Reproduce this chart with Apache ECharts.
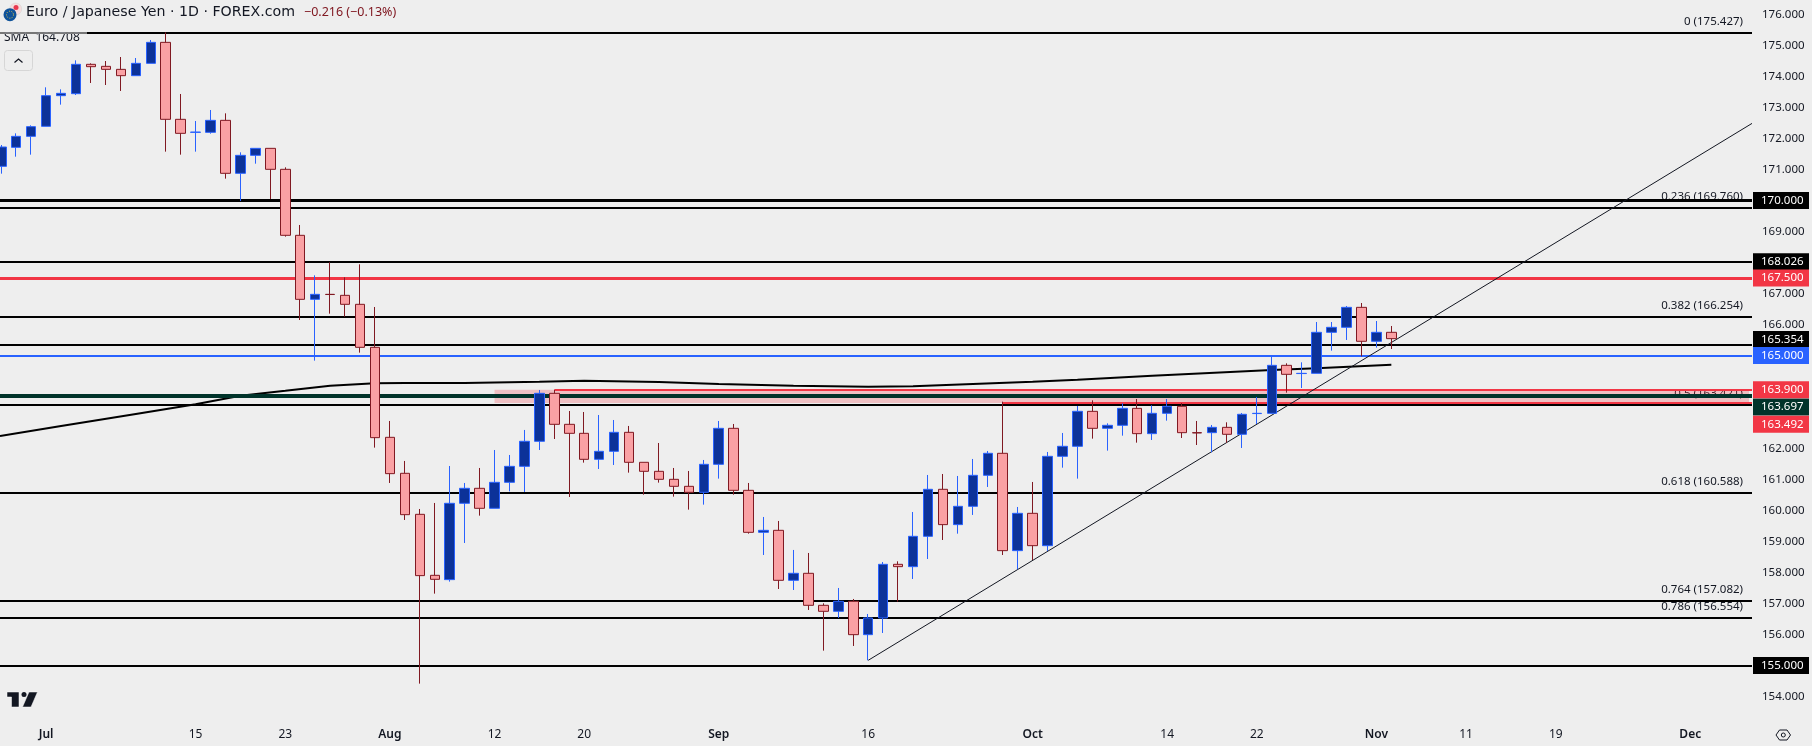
<!DOCTYPE html>
<html>
<head>
<meta charset="utf-8">
<title>EUR/JPY</title>
<script src="https://cdn.jsdelivr.net/npm/echarts@6/dist/echarts.min.js"></script>
<style>
  html, body { margin: 0; padding: 0; background: #eeeeee; }
  #chart { width: 1812px; height: 746px; }
</style>
</head>
<body>
<div id="chart"></div>
<script>
// daily candles, index 0 is late June, last one is 4 Nov
const openVals = [171.105,171.718,172.073,172.396,173.385,173.449,174.396,174.331,174.234,174.03,174.428,175.105,172.622,172.202,172.202,172.589,170.88,171.46,171.686,171.009,168.88,166.815,166.976,166.944,166.654,165.267,162.364,161.203,159.88,157.912,157.773,160.235,160.719,160.074,160.912,161.428,162.235,163.783,162.783,162.493,161.654,161.912,162.525,161.558,161.267,161.009,160.783,160.59,161.493,162.654,160.654,159.299,159.364,157.751,157.977,156.945,156.751,157.074,155.998,156.536,158.267,158.192,159.17,160.687,159.547,160.138,161.138,161.848,158.708,159.912,158.869,161.751,162.074,163.202,162.654,162.751,163.299,162.482,163.138,163.364,162.514,162.514,162.686,162.461,163.13,163.138,164.686,164.42,164.428,165.751,165.912,166.557,165.461,165.751];
const closeVals = [171.729,172.073,172.385,173.385,173.46,174.396,174.32,174.234,174.03,174.428,175.105,172.622,172.17,172.21,172.589,170.88,171.46,171.686,171.009,168.88,166.815,166.976,166.97,166.654,165.267,162.353,161.192,159.869,157.902,157.783,160.235,160.719,160.074,160.912,161.428,162.235,163.783,162.783,162.493,161.654,161.912,162.525,161.558,161.267,161.009,160.783,160.59,161.493,162.654,160.654,159.299,159.364,157.751,157.977,156.945,156.751,157.074,155.998,156.536,158.267,158.192,159.17,160.687,159.547,160.138,161.138,161.848,158.708,159.912,158.869,161.751,162.074,163.203,162.654,162.751,163.299,162.482,163.138,163.364,162.514,162.505,162.686,162.461,163.106,163.138,164.686,164.396,164.428,165.751,165.912,166.557,165.461,165.751,165.547];
const lowVals = [170.869,171.417,171.482,172.396,173.095,173.406,173.794,173.729,173.536,174.03,174.428,171.579,171.482,171.579,172.159,170.708,169.987,171.191,170.052,168.837,166.148,164.837,166.353,166.256,165.095,162.031,160.891,159.697,154.418,157.321,157.708,158.955,159.837,160.074,160.622,160.601,161.955,162.31,160.439,161.547,161.342,161.471,161.224,160.514,160.902,160.45,160.031,160.192,161.031,160.514,159.256,158.568,157.471,157.439,156.794,155.482,156.536,155.633,155.17,156.052,157.063,157.794,158.439,159.052,159.256,159.859,160.762,158.568,158.106,158.407,158.697,161.385,161.031,162.321,161.934,162.417,162.192,162.278,162.901,162.342,162.116,161.88,162.192,162.02,162.794,163.138,163.805,163.955,164.428,165.159,165.504,164.977,165.256,165.213];
const highVals = [171.794,172.17,172.428,173.654,173.589,174.525,174.428,174.503,174.632,174.6,175.181,175.427,173.439,172.568,172.923,172.815,171.557,171.686,171.686,171.073,169.213,167.589,168.009,167.525,167.944,166.568,162.891,161.601,160.052,160.246,161.439,160.891,161.375,161.955,161.794,162.601,163.891,163.891,163.213,163.181,163.084,162.923,162.73,161.558,162.181,161.375,161.278,161.633,162.891,162.794,160.891,159.794,159.665,158.73,158.633,157.009,157.504,157.149,156.665,158.342,158.364,159.955,161.149,161.181,161.117,161.665,161.923,163.514,160.117,160.923,161.891,162.504,163.375,163.557,162.815,163.461,163.6,163.396,163.6,163.471,162.891,162.762,162.848,163.149,163.665,164.987,164.751,164.783,166.084,166.084,166.6,166.697,166.116,165.955];

// 200 SMA read at a handful of candles
const smaIndex = [-0.087,4,9,13,16,19,22,25,27,31,36,39,44,48,53,58,61,65,69,72,77,85,88,93];
const smaVals = [162.407,162.73,163.117,163.428,163.708,163.869,164.031,164.105,164.117,164.117,164.154,164.19,164.15,164.084,164.03,163.998,164.009,164.084,164.16,164.224,164.353,164.536,164.59,164.708];

const xTickIndex = [3,13,19,26,33,39,48,58,69,78,84,92,98,104,113];
const xTickLabels = ['Jul','15','23','Aug','12','20','Sep','16','Oct','14','22','Nov','11','19','Dec'];
const monthLabels = ['Jul','Aug','Sep','Oct','Nov','Dec'];
const yTicks = [176,175,174,173,172,171,169,167,166,162,161,160,159,158,157,156,154];

const fibRatios = ['0.786','0.764','0.618','0.5','0.382','0.236','0'];
const fibPrices = [156.554,157.082,160.588,163.421,166.254,169.76,175.427];

const blackLevels = [170,168.026,165.354,155];
const redLevels = [167.5];
const blueLevels = [165];
const greenLevels = [163.697];
const partialRed = [163.9,163.492];
const partialRedStart = [37,67];

const zoneTop = 163.9;
const zoneBottom = 163.47;
const zoneStart = 33;
const zoneEnd = 116.93;

const trendStart = [58,155.17];
const trendEnd = [117.13,172.49];

const xMin = -0.087;
const xMax = 117.13;
const yMin = 153.245;
const yMax = 176.471;

const fontName = '"Noto Sans", sans-serif';
const titleFont = '"DejaVu Sans", sans-serif';
const textColor = '#131722';

// price tags that got pushed off their line to make room for the next one
const tagNudge = {165.354: -5, 163.697: 11, 163.492: 22};

function tagLine(price, color, width, start) {
  return [{
    coord: [start === undefined ? xMin : start, price],
    lineStyle: {color: color, width: width, type: 'solid', opacity: 1},
    label: {
      show: true,
      position: 'end',
      distance: 1,
      offset: [0, tagNudge[price] || 0],
      formatter: price.toFixed(3),
      color: '#ffffff',
      backgroundColor: color,
      width: 40,
      align: 'left',
      padding: [3, 8, 2, 8],
      fontFamily: fontName,
      fontSize: 11.5
    }
  }, {coord: [xMax, price]}];
}

const fibLines = fibPrices.map(function (p, i) {
  return [{
    coord: [xMin, p],
    lineStyle: {color: '#000000', width: 2, type: 'solid', opacity: 1},
    label: {
      show: true,
      position: 'insideEndTop',
      distance: [9, 5],
      formatter: fibRatios[i] + ' (' + p.toFixed(3) + ')',
      color: textColor,
      fontFamily: fontName,
      fontSize: 11.5
    }
  }, {coord: [xMax, p]}];
});

const tagLines = []
  .concat(blackLevels.map((p) => tagLine(p, '#000000', p === 170 ? 3 : 2)))
  .concat(redLevels.map((p) => tagLine(p, '#f23645', 3)))
  .concat(blueLevels.map((p) => tagLine(p, '#2962ff', 2)))
  .concat(greenLevels.map((p) => tagLine(p, '#00332a', 4)))
  .concat(partialRed.map((p, i) => tagLine(p, '#f23645', 2, partialRedStart[i])));

const candles = openVals.map(function (o, i) {
  return [i, o, closeVals[i], lowVals[i], highVals[i]];
});

const option = {
  animation: false,
  backgroundColor: '#eeeeee',
  textStyle: {fontFamily: fontName},
  title: [{
    text: 'Euro / Japanese Yen · 1D · FOREX.com',
    left: 26,
    top: 5,
    padding: 0,
    textStyle: {color: textColor, fontSize: 14.2, fontWeight: 'normal', fontFamily: titleFont}
  }, {
    text: '−0.216 (−0.13%)',
    left: 304,
    top: 6,
    padding: 0,
    textStyle: {color: '#801922', fontSize: 12.5, fontWeight: 'normal', fontFamily: fontName}
  }, {
    text: 'SMA  164.708',
    left: 4,
    top: 32,
    padding: 0,
    textStyle: {color: textColor, fontSize: 12, fontWeight: 'normal', fontFamily: fontName}
  }],
  grid: {left: 0, top: 0, width: 1752, height: 720},
  xAxis: {
    type: 'value',
    min: xMin,
    max: xMax,
    splitLine: {show: false},
    axisLine: {show: false},
    axisTick: {show: false},
    axisLabel: {
      customValues: xTickIndex,
      margin: 9,
      formatter: function (v) {
        const name = xTickLabels[xTickIndex.indexOf(v)];
        return monthLabels.indexOf(name) >= 0 ? '{m|' + name + '}' : name;
      },
      color: textColor,
      fontFamily: fontName,
      fontSize: 12,
      rich: {m: {fontWeight: 600, fontSize: 12, fontFamily: fontName, color: textColor}}
    }
  },
  yAxis: {
    type: 'value',
    position: 'right',
    min: yMin,
    max: yMax,
    splitLine: {show: false},
    axisLine: {show: false},
    axisTick: {show: false},
    axisLabel: {
      customValues: yTicks,
      margin: 10,
      formatter: (v) => v.toFixed(3),
      color: textColor,
      fontFamily: fontName,
      fontSize: 11.5
    }
  },
  series: [{
    name: 'fib',
    type: 'line',
    data: [],
    markLine: {z: 2, silent: true, symbol: ['none', 'none'], data: fibLines}
  }, {
    name: 'zone',
    type: 'line',
    data: [],
    markArea: {
      z: 3,
      silent: true,
      itemStyle: {color: 'rgba(242,54,69,0.25)'},
      data: [[{coord: [zoneStart, zoneTop]}, {coord: [zoneEnd, zoneBottom]}]]
    }
  }, {
    name: 'SMA',
    type: 'line',
    z: 3,
    showSymbol: false,
    silent: true,
    lineStyle: {color: '#000000', width: 2},
    data: smaIndex.map((x, i) => [x, smaVals[i]])
  }, {
    name: 'trend',
    type: 'line',
    z: 4,
    showSymbol: false,
    silent: true,
    lineStyle: {color: '#131722', width: 1},
    data: [trendStart, trendEnd]
  }, {
    name: 'levels',
    type: 'line',
    data: [],
    markLine: {z: 4, silent: true, symbol: ['none', 'none'], data: tagLines}
  }, {
    name: 'EURJPY',
    type: 'candlestick',
    z: 10,
    barWidth: 10,
    silent: true,
    itemStyle: {
      color: '#0c3299',
      color0: '#faa1a4',
      borderColor: '#2962ff',
      borderColor0: '#801922',
      borderWidth: 1
    },
    data: candles
  }],
  graphic: [
    // legend backdrop washes out the top line
    {type: 'rect', z: 20, silent: true, shape: {x: 0, y: 31, width: 87, height: 3}, style: {fill: 'rgba(238,238,238,0.5)'}},
    {type: 'rect', z: 20, silent: true, shape: {x: 4.5, y: 50.5, width: 28, height: 20, r: 3}, style: {fill: '#eeeeee', stroke: '#d6d6d6', lineWidth: 1}},
    {type: 'polyline', z: 21, silent: true, shape: {points: [[14.5, 62.5], [18.5, 59], [22.5, 62.5]]}, style: {stroke: textColor, lineWidth: 1.2, fill: 'none'}},
    // flag icons
    {type: 'circle', z: 20, silent: true, shape: {cx: 15.7, cy: 9, r: 6}, style: {fill: '#f6dcdc', stroke: '#d0d0d0', lineWidth: 0.5}},
    {type: 'circle', z: 20, silent: true, shape: {cx: 16, cy: 7.5, r: 2.5}, style: {fill: '#e8384f'}},
    {type: 'circle', z: 21, silent: true, shape: {cx: 10, cy: 14.7, r: 6.5}, style: {fill: '#0f5299'}},
    {type: 'circle', z: 22, silent: true, shape: {cx: 10, cy: 14.7, r: 3.5}, style: {fill: 'none', stroke: '#e6c845', lineWidth: 1, lineDash: [1, 1.5]}},
    // tradingview mark
    {type: 'polygon', z: 20, silent: true, shape: {points: [[7, 692], [19, 692], [19, 707], [11.5, 707], [11.5, 697], [7, 697]]}, style: {fill: textColor, stroke: '#ffffff', lineWidth: 0.5}},
    {type: 'circle', z: 20, silent: true, shape: {cx: 24, cy: 694.5, r: 2.5}, style: {fill: textColor}},
    {type: 'polygon', z: 20, silent: true, shape: {points: [[29, 692], [37.5, 692], [31, 707], [22.5, 707]]}, style: {fill: textColor, stroke: '#ffffff', lineWidth: 0.5}},
    // settings hexagon under the price scale
    {type: 'polygon', z: 20, silent: true, shape: {points: [[1776, 735], [1779.5, 730], [1787, 730], [1790.5, 735], [1787, 740], [1779.5, 740]]}, style: {fill: 'none', stroke: textColor, lineWidth: 1}},
    {type: 'circle', z: 20, silent: true, shape: {cx: 1783.3, cy: 735, r: 2}, style: {fill: 'none', stroke: textColor, lineWidth: 1}}
  ]
};

const myChart = echarts.init(document.getElementById('chart'));
myChart.setOption(option);
</script>
</body>
</html>
